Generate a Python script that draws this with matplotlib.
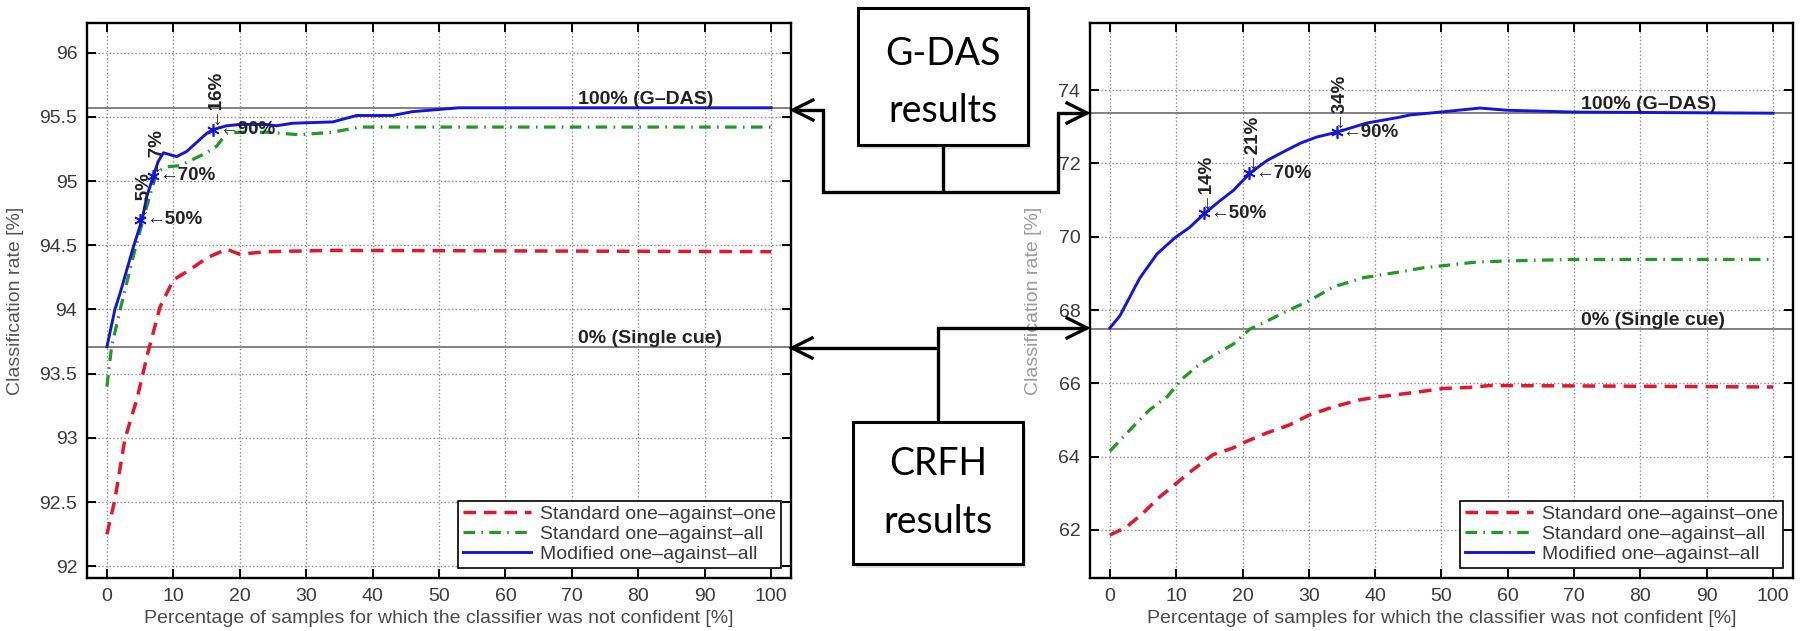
"""Classification rate vs. share of non-confident samples, two datasets side by side."""

import matplotlib

matplotlib.use('Agg')
import matplotlib.pyplot as plt  # noqa: E402
from matplotlib.patches import Rectangle  # noqa: E402
from matplotlib.ticker import FuncFormatter  # noqa: E402

plt.rcParams['font.family'] = ['Liberation Sans', 'DejaVu Sans']

W, H = 1806, 631

# ---- data: left panel ----
left_ovo_x = [0, 1.2, 2.7, 4.5, 6.2, 8, 10, 12.5, 15, 18, 20, 24, 34, 100]
left_ovo_y = [92.25, 92.52, 92.99, 93.30, 93.67, 94.02, 94.23, 94.31, 94.40, 94.47, 94.43, 94.45, 94.46, 94.45]

left_ova_x = [0, 0.7, 2, 4, 5.6, 7.5, 9, 11, 13, 15, 16.5, 18, 20, 24, 29, 34, 38, 47, 100]
left_ova_y = [93.40, 93.71, 94.0, 94.42, 94.73, 95.07, 95.11, 95.12, 95.17, 95.22, 95.27, 95.37,
              95.38, 95.38, 95.36, 95.38, 95.42, 95.42, 95.42]

left_mod_x = [0, 1.2, 2, 4, 5.3, 6, 7, 7.7, 8.5, 10.5, 12, 13.5, 15, 16, 18, 20, 24, 25.5, 28, 34,
              37.6, 43, 46, 53, 100]
left_mod_y = [93.71, 94.0, 94.13, 94.49, 94.70, 94.88, 95.04, 95.15, 95.22, 95.19, 95.23, 95.30,
              95.37, 95.40, 95.43, 95.44, 95.44, 95.43, 95.45, 95.46, 95.51, 95.51, 95.54, 95.57, 95.57]

left_gdas = 95.57
left_single = 93.71
left_mark_x = [5, 7, 16]
left_mark_y = [94.70, 95.04, 95.40]
left_mark_pct = ['5%', '7%', '16%']

# ---- data: right panel ----
right_ovo_x = [0, 2.5, 5, 7.5, 10, 12.5, 15.5, 18.6, 20, 23.7, 27, 30, 33.7, 37.7, 40, 46.3, 50.2,
               54.3, 57.3, 70, 100]
right_ovo_y = [61.86, 62.08, 62.46, 62.90, 63.27, 63.64, 64.05, 64.24, 64.37, 64.65, 64.86, 65.13,
               65.36, 65.55, 65.62, 65.76, 65.86, 65.89, 65.94, 65.93, 65.90]

right_ova_x = [0, 3.5, 6, 8.6, 11, 13.6, 16, 18.6, 21.1, 23.7, 26, 30, 33.7, 38.2, 43.7, 47.2,
               51.3, 55.3, 60, 70, 100]
right_ova_y = [64.15, 64.82, 65.28, 65.63, 66.14, 66.53, 66.80, 67.07, 67.48, 67.70, 67.91, 68.25,
               68.63, 68.88, 69.04, 69.15, 69.23, 69.31, 69.34, 69.38, 69.38]

right_mod_x = [0, 1.5, 4.5, 7.1, 9.8, 12, 14.3, 16.6, 18.6, 21.1, 23.7, 26, 28.7, 31.2, 34.2,
               38.7, 43.7, 45.2, 49.8, 55.8, 59.9, 70, 100]
right_mod_y = [67.51, 67.84, 68.87, 69.53, 69.97, 70.25, 70.64, 70.98, 71.26, 71.73, 72.08, 72.30,
               72.55, 72.72, 72.85, 73.10, 73.26, 73.32, 73.40, 73.51, 73.45, 73.40, 73.37]

right_gdas = 73.37
right_single = 67.48
right_mark_x = [14.2, 21, 34.2]
right_mark_y = [70.64, 71.73, 72.85]
right_mark_pct = ['14%', '21%', '34%']

mark_levels = ['50%', '70%', '90%']
series_labels = ['Standard one–against–one', 'Standard one–against–all', 'Modified one–against–all']
x_ticks = list(range(0, 101, 10))
left_yticks = [92, 92.5, 93, 93.5, 94, 94.5, 95, 95.5, 96]
right_yticks = [62, 64, 66, 68, 70, 72, 74]

RED, GREEN, BLUE = '#e3162c', '#1f9a22', '#1414e0'
TXT = '#3a3a3a'


def draw_panel(ax, ovo, ova, mod, gdas, single, marks, ylim, yticks, ylabel_color, ylabel_x):
    ax.plot(*ovo, color=RED, lw=2.5, dashes=(3.6, 2.3), label=series_labels[0])
    ax.plot(*ova, color=GREEN, lw=2.3, dashes=(3.6, 2.0, 0.5, 2.0), label=series_labels[1])
    ax.plot(*mod, color=BLUE, lw=2.1, label=series_labels[2])

    ax.axhline(gdas, color='#808080', lw=1.4, zorder=1)
    ax.axhline(single, color='#808080', lw=1.4, zorder=1)
    ax.text(71, gdas, '100% (G–DAS)', fontsize=14, fontweight='bold', color='#222222',
            va='bottom', ha='left')
    ax.text(71, single, '0% (Single cue)', fontsize=14, fontweight='bold', color='#222222',
            va='bottom', ha='left')

    mx, my, pct = marks
    ax.plot(mx, my, ls='none', marker=(6, 2, 0), ms=9, mew=1.2, color=BLUE)
    for x, y, p, lev in zip(mx, my, pct, mark_levels):
        ax.annotate('←' + lev, (x, y), xytext=(4, 0), textcoords='offset points',
                    fontsize=13.5, fontweight='bold', color='#222222', va='center', ha='left')
        ax.annotate('←' + p, (x, y), xytext=(0, 3), textcoords='offset points',
                    fontsize=13.5, fontweight='bold', color='#222222', va='bottom', ha='center',
                    rotation=90)

    ax.set_xlim(-3, 103)
    ax.set_ylim(ylim)
    ax.set_xticks(x_ticks)
    ax.set_yticks(yticks)
    ax.yaxis.set_major_formatter(FuncFormatter(lambda v, p: f'{v:g}'))
    ax.tick_params(direction='in', top=True, right=True, length=6.5, width=1.4,
                   labelsize=14, labelcolor=TXT, pad=7)
    ax.grid(True, ls=':', color='#8c8c8c', lw=1.0)
    for spine in ax.spines.values():
        spine.set_linewidth(1.7)

    ax.set_xlabel('Percentage of samples for which the classifier was not confident [%]',
                  fontsize=14, color='#4a4a4a', labelpad=4)
    ax.set_ylabel('Classification rate [%]', fontsize=14, color=ylabel_color)
    ax.yaxis.set_label_coords(ylabel_x, 0.5)

    leg = ax.legend(loc='lower right', bbox_to_anchor=(1 - 10 / 704, 10 / 555), borderaxespad=0,
                    fancybox=False, edgecolor='black', framealpha=1, fontsize=14,
                    handlelength=3.5, handletextpad=0.45, labelspacing=0.12, borderpad=0.25)
    leg.get_frame().set_linewidth(1.2)
    for t in leg.get_texts():
        t.set_color(TXT)


fig = plt.figure(figsize=(W / 100, H / 100), dpi=100)
ax_l = fig.add_axes([87 / W, 1 - 578 / H, 704 / W, 555 / H])
ax_r = fig.add_axes([1090 / W, 1 - 578 / H, 703 / W, 555 / H])

draw_panel(ax_l, (left_ovo_x, left_ovo_y), (left_ova_x, left_ova_y), (left_mod_x, left_mod_y),
           left_gdas, left_single, (left_mark_x, left_mark_y, left_mark_pct),
           (91.91, 96.23), left_yticks, '#555555', -0.0895)
draw_panel(ax_r, (right_ovo_x, right_ovo_y), (right_ova_x, right_ova_y), (right_mod_x, right_mod_y),
           right_gdas, right_single, (right_mark_x, right_mark_y, right_mark_pct),
           (60.69, 75.83), right_yticks, '#9a9a9a', -0.068)

# --- overlay: callout boxes and connectors (pixel coordinates) ---
ov = fig.add_axes([0, 0, 1, 1])
ov.set_xlim(0, W)
ov.set_ylim(H, 0)
ov.axis('off')
ov.set_zorder(10)
ov.patch.set_alpha(0)

LW = 2.4
boxes = [
    ((858, 8, 170, 137), ('G-DAS', 65), ('results', 122)),
    ((853, 422, 170, 142), ('CRFH', 475), ('results', 533)),
]
for (bx, by, bw, bh), line1, line2 in boxes:
    ov.add_patch(Rectangle((bx + 3, by + 4), bw, bh, fc='#c8c8c8', ec='none', alpha=0.6))
    ov.add_patch(Rectangle((bx, by), bw, bh, fc='white', ec='black', lw=2.2))
    cx = bx + bw / 2
    for txt, base in (line1, line2):
        ov.text(cx, base, txt, fontsize=27, family=['Lato', 'DejaVu Sans'], ha='center',
                va='baseline', color='black')

paths = [
    [(943, 145), (943, 192)],
    [(793, 110), (823, 110), (823, 192), (1058, 192), (1058, 113), (1087, 113)],
    [(792, 348), (938, 348)],
    [(938, 422), (938, 328), (1087, 328)],
]
for pts in paths:
    xs, ys = zip(*pts)
    ov.plot(xs, ys, color='black', lw=LW, solid_capstyle='butt', solid_joinstyle='miter')

heads = [((793, 110), -1), ((1087, 113), 1), ((792, 348), -1), ((1087, 328), 1)]
for (tx, ty), d in heads:
    ov.plot([tx - d * 20, tx, tx - d * 20], [ty - 10, ty, ty + 10], color='black', lw=LW,
            solid_joinstyle='miter')

fig.savefig('out.png', dpi=100)
